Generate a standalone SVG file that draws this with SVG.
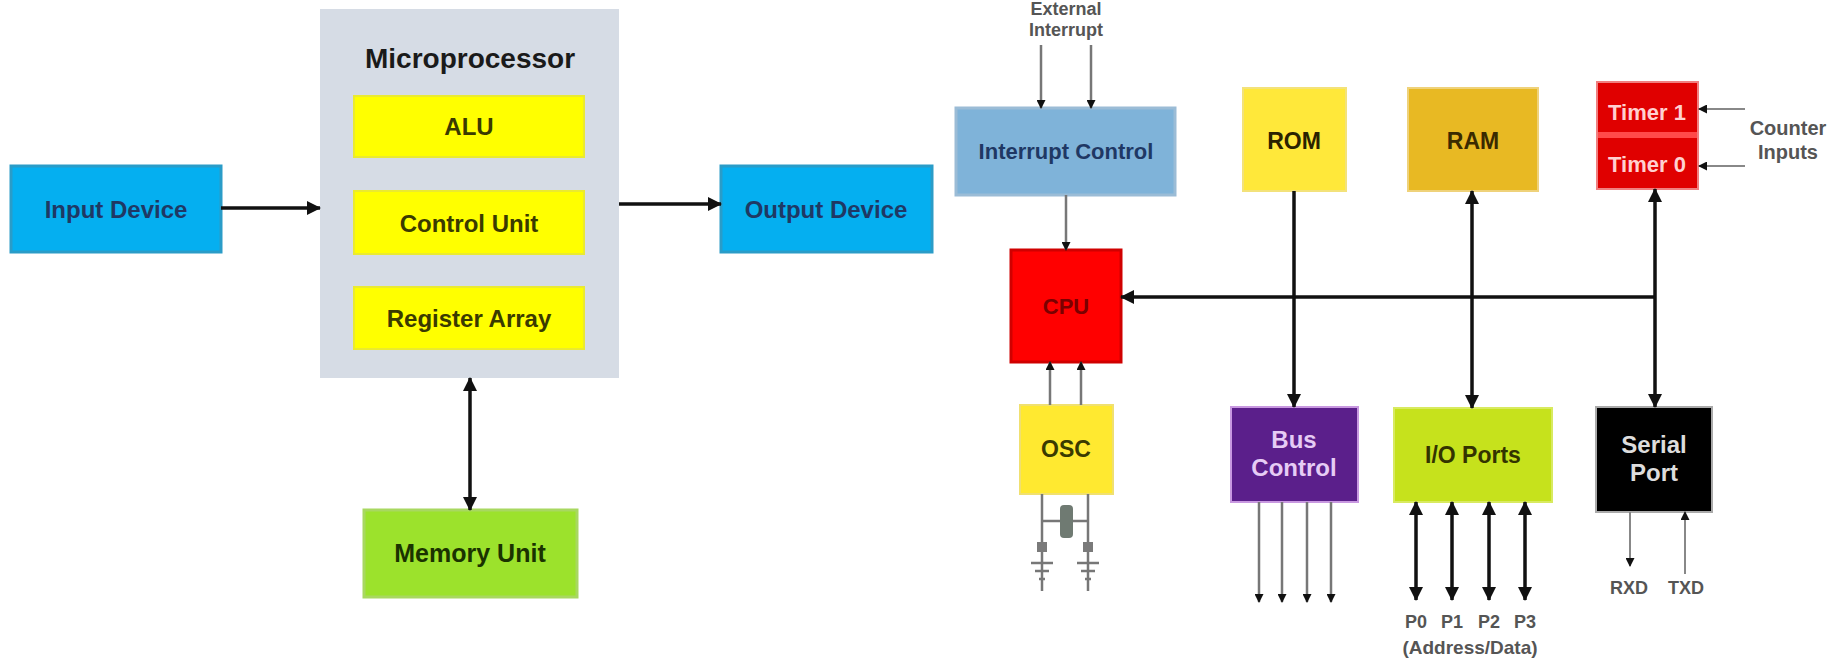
<svg xmlns="http://www.w3.org/2000/svg" width="1839" height="658" viewBox="0 0 1839 658">
<style>
text{font-family:"Liberation Sans",Arial,sans-serif;font-weight:bold;text-anchor:middle}
.k{stroke:#111;stroke-width:3.5;fill:none}
.g{stroke:#777;stroke-width:2.5;fill:none}
.gt{stroke:#888;stroke-width:2;fill:none}
.lbl{fill:#555;font-weight:bold}
</style>
<defs>
<marker id="ah" markerUnits="userSpaceOnUse" markerWidth="14" markerHeight="14" refX="13" refY="7" orient="auto-start-reverse"><path d="M0,0 L14,7 L0,14 z" fill="#111"/></marker>
<marker id="as" markerUnits="userSpaceOnUse" markerWidth="9" markerHeight="9" refX="8" refY="4.5" orient="auto-start-reverse"><path d="M0,0 L9,4.5 L0,9 z" fill="#111"/></marker>
</defs>
<rect width="1839" height="658" fill="#fff"/>

<g id="input-device">
<rect x="11" y="166" width="210" height="86" fill="#05aff0" stroke="#2a9cc8" stroke-width="3"/>
<text x="116" y="218" font-size="24" fill="#1f3864">Input Device</text>
</g>

<g id="microprocessor">
<rect x="320" y="9" width="299" height="369" fill="#d6dce5"/>
<text x="470" y="68" font-size="28" fill="#1a1a1a">Microprocessor</text>
<g id="alu"><rect x="354" y="96" width="230" height="61" fill="#ffff00" stroke="#eaea30" stroke-width="2"/>
<text x="469" y="135" font-size="24" fill="#3a3a00">ALU</text></g>
<g id="control-unit"><rect x="354" y="191" width="230" height="63" fill="#ffff00" stroke="#eaea30" stroke-width="2"/>
<text x="469" y="232" font-size="24" fill="#3a3a00">Control Unit</text></g>
<g id="register-array"><rect x="354" y="287" width="230" height="62" fill="#ffff00" stroke="#eaea30" stroke-width="2"/>
<text x="469" y="327" font-size="24" fill="#3a3a00">Register Array</text></g>
</g>

<g id="output-device">
<rect x="721" y="166" width="211" height="86" fill="#05aff0" stroke="#2a9cc8" stroke-width="3"/>
<text x="826" y="218" font-size="24" fill="#1f3864">Output Device</text>
</g>

<g id="memory-unit">
<rect x="364" y="510" width="213" height="87" fill="#9ce22c" stroke="#a8d860" stroke-width="3"/>
<text x="470" y="562" font-size="25" fill="#1a3300">Memory Unit</text>
</g>

<g id="external-interrupt">
<text x="1066" y="15" font-size="18" class="lbl">External</text>
<text x="1066" y="36" font-size="18" class="lbl">Interrupt</text>
</g>

<g id="interrupt-control">
<rect x="956" y="108" width="219" height="87" fill="#7fb3d9" stroke="#9bbcd6" stroke-width="3"/>
<text x="1066" y="159" font-size="22" fill="#1f3864">Interrupt Control</text>
</g>

<g id="cpu">
<rect x="1011" y="250" width="110" height="112" fill="#ff0000" stroke="#d00000" stroke-width="3"/>
<text x="1066" y="314" font-size="22" fill="#7a0000">CPU</text>
</g>

<g id="osc">
<rect x="1020" y="405" width="93" height="89" fill="#ffe930" stroke="#f0e070" stroke-width="2"/>
<text x="1066" y="457" font-size="23" fill="#3a3a00">OSC</text>
<g class="g" stroke="#888">
<line x1="1042" y1="494" x2="1042" y2="591"/>
<line x1="1088" y1="494" x2="1088" y2="591"/>
<line x1="1042" y1="521" x2="1088" y2="521"/>
<line x1="1031" y1="563" x2="1053" y2="563"/>
<line x1="1035" y1="571" x2="1049" y2="571"/>
<line x1="1039" y1="579" x2="1045" y2="579"/>
<line x1="1077" y1="563" x2="1099" y2="563"/>
<line x1="1081" y1="571" x2="1095" y2="571"/>
<line x1="1085" y1="579" x2="1091" y2="579"/>
</g>
<rect x="1060" y="505" width="13" height="33" rx="4" fill="#6f7a72"/>
<rect x="1037" y="542" width="10" height="10" fill="#7a7a7a"/>
<rect x="1083" y="542" width="10" height="10" fill="#7a7a7a"/>
</g>

<g id="rom">
<rect x="1243" y="88" width="103" height="103" fill="#ffe83a" stroke="#f3e27a" stroke-width="2"/>
<text x="1294" y="149" font-size="23" fill="#2a2200">ROM</text>
</g>

<g id="ram">
<rect x="1408" y="88" width="130" height="103" fill="#e8b923" stroke="#efd27a" stroke-width="2"/>
<text x="1473" y="149" font-size="23" fill="#3a2a00">RAM</text>
</g>

<g id="timers">
<rect x="1597" y="82" width="101" height="107" fill="#e00000" stroke="#f08080" stroke-width="2"/>
<rect x="1598" y="132" width="99" height="6" fill="#ff4a4a"/>
<text x="1647" y="120" font-size="22" fill="#ffd0d0">Timer 1</text>
<text x="1647" y="172" font-size="22" fill="#ffd0d0">Timer 0</text>
</g>

<g id="counter-inputs">
<text x="1788" y="135" font-size="20" class="lbl">Counter</text>
<text x="1788" y="159" font-size="20" class="lbl">Inputs</text>
</g>

<g id="bus-control">
<rect x="1231" y="407" width="127" height="95" fill="#5b1f8b" stroke="#c898e0" stroke-width="2"/>
<text x="1294" y="448" font-size="24" fill="#e6ccf5">Bus</text>
<text x="1294" y="476" font-size="24" fill="#e6ccf5">Control</text>
</g>

<g id="io-ports">
<rect x="1394" y="408" width="158" height="94" fill="#c6e21c" stroke="#d8ea60" stroke-width="2"/>
<text x="1473" y="463" font-size="23" fill="#333300">I/O Ports</text>
</g>

<g id="serial-port">
<rect x="1596" y="407" width="116" height="105" fill="#000" stroke="#aaa" stroke-width="2"/>
<text x="1654" y="453" font-size="24" fill="#ddd">Serial</text>
<text x="1654" y="481" font-size="24" fill="#ddd">Port</text>
</g>

<g id="port-labels">
<text x="1416" y="628" font-size="18" class="lbl">P0</text>
<text x="1452" y="628" font-size="18" class="lbl">P1</text>
<text x="1489" y="628" font-size="18" class="lbl">P2</text>
<text x="1525" y="628" font-size="18" class="lbl">P3</text>
<text x="1470" y="654" font-size="19" class="lbl">(Address/Data)</text>
<text x="1629" y="594" font-size="18" class="lbl">RXD</text>
<text x="1686" y="594" font-size="18" class="lbl">TXD</text>
</g>

<g id="connectors">
<line class="k" x1="221" y1="208" x2="320" y2="208" marker-end="url(#ah)"/>
<line class="k" x1="619" y1="204" x2="721" y2="204" marker-end="url(#ah)"/>
<line class="k" x1="470" y1="378" x2="470" y2="510" marker-start="url(#ah)" marker-end="url(#ah)"/>
<line class="g" x1="1041" y1="45" x2="1041" y2="108" marker-end="url(#as)"/>
<line class="g" x1="1091" y1="45" x2="1091" y2="108" marker-end="url(#as)"/>
<line class="g" x1="1066" y1="195" x2="1066" y2="250" marker-end="url(#as)"/>
<line class="k" x1="1655" y1="297" x2="1121" y2="297" marker-end="url(#ah)"/>
<line class="k" x1="1294" y1="191" x2="1294" y2="407" marker-end="url(#ah)"/>
<line class="k" x1="1472" y1="191" x2="1472" y2="408" marker-start="url(#ah)" marker-end="url(#ah)"/>
<line class="k" x1="1655" y1="189" x2="1655" y2="407" marker-start="url(#ah)" marker-end="url(#ah)"/>
<line class="g" x1="1050" y1="405" x2="1050" y2="362" marker-end="url(#as)"/>
<line class="g" x1="1081" y1="405" x2="1081" y2="362" marker-end="url(#as)"/>
<line class="g" x1="1259" y1="502" x2="1259" y2="602" marker-end="url(#as)"/>
<line class="g" x1="1282" y1="502" x2="1282" y2="602" marker-end="url(#as)"/>
<line class="g" x1="1307" y1="502" x2="1307" y2="602" marker-end="url(#as)"/>
<line class="g" x1="1331" y1="502" x2="1331" y2="602" marker-end="url(#as)"/>
<line class="k" stroke-width="3" x1="1416" y1="502" x2="1416" y2="600" marker-start="url(#ah)" marker-end="url(#ah)"/>
<line class="k" stroke-width="3" x1="1452" y1="502" x2="1452" y2="600" marker-start="url(#ah)" marker-end="url(#ah)"/>
<line class="k" stroke-width="3" x1="1489" y1="502" x2="1489" y2="600" marker-start="url(#ah)" marker-end="url(#ah)"/>
<line class="k" stroke-width="3" x1="1525" y1="502" x2="1525" y2="600" marker-start="url(#ah)" marker-end="url(#ah)"/>
<line class="gt" x1="1630" y1="512" x2="1630" y2="566" marker-end="url(#as)"/>
<line class="gt" x1="1685" y1="574" x2="1685" y2="512" marker-end="url(#as)"/>
<line class="gt" x1="1745" y1="109" x2="1699" y2="109" marker-end="url(#as)"/>
<line class="gt" x1="1745" y1="166" x2="1699" y2="166" marker-end="url(#as)"/>
</g>
</svg>
